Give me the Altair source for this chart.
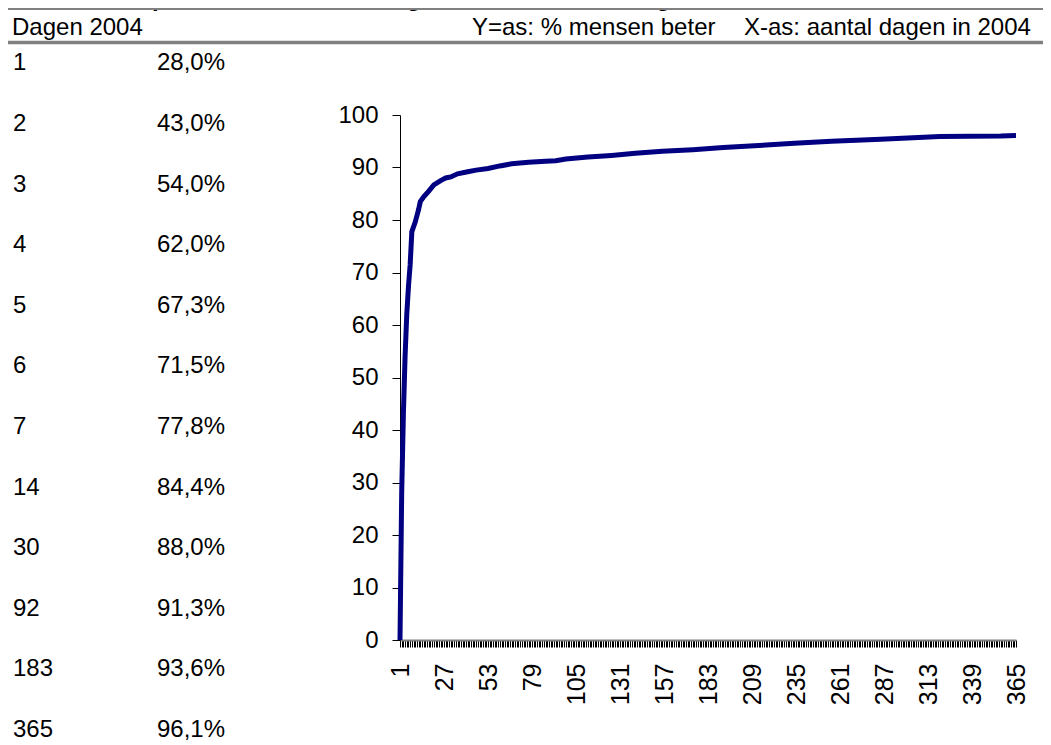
import altair as alt
import pandas as pd

# ---------------- data ----------------
title_text = "personeel dat beter is gemeld na x aantal dagen"
header_left = "Dagen 2004"
header_mid = "Y=as: % mensen beter"
header_right = "X-as: aantal dagen in 2004"

table_days = ["1", "2", "3", "4", "5", "6", "7", "14", "30", "92", "183", "365"]
table_pct = ["28,0%", "43,0%", "54,0%", "62,0%", "67,3%", "71,5%", "77,8%",
             "84,4%", "88,0%", "91,3%", "93,6%", "96,1%"]

# curve (category position -> % mensen beter)
curve_pos = [1, 2, 3, 4, 5, 6, 7, 8, 10, 12, 13, 15, 18, 21, 25, 28, 31, 35, 41, 46,
             53, 60, 67, 77, 87, 93, 99, 112, 126, 140, 156, 174, 184, 192, 213,
             234, 256, 285, 320, 356, 365]
curve_val = [0, 28.0, 43.0, 54.0, 62.0, 67.3, 71.5, 77.8, 79.6, 82.0, 83.5, 84.4,
             85.5, 86.7, 87.5, 88.0, 88.2, 88.8, 89.2, 89.5, 89.8, 90.3, 90.7, 91.0,
             91.2, 91.3, 91.6, 92.0, 92.3, 92.7, 93.1, 93.4, 93.6, 93.8, 94.2, 94.6,
             95.0, 95.4, 95.9, 96.0, 96.1]

x_ticks = list(range(1, 366))
x_labels = list(range(1, 366, 26))
y_ticks = list(range(0, 101, 10))

FONT = "Liberation Sans"
FS = 24

curve_df = pd.DataFrame({"pos": curve_pos, "val": curve_val})
table_df = pd.DataFrame({"row": list(range(len(table_days))),
                         "day": table_days, "pct": table_pct})
one = pd.DataFrame({"k": [0]})

label_list = ",".join(str(v) for v in x_labels)

line = alt.Chart(curve_df).mark_line(color="#000080", strokeWidth=5).encode(
    x=alt.X("pos:Q",
            scale=alt.Scale(domain=[1, 365], nice=False, zero=False),
            axis=alt.Axis(values=x_ticks, title=None, grid=False,
                          tickSize=7, tickColor="#000000", tickWidth=1,
                          domainColor="#808080", domainWidth=2,
                          labelAngle=270, labelFont=FONT, labelFontSize=25,
                          labelColor="#000000", labelPadding=16,
                          labelOverlap=False, labelBound=False, labelFlush=False,
                          labelExpr=f"indexof([{label_list}], datum.value) >= 0 ? datum.label : ''")),
    y=alt.Y("val:Q",
            scale=alt.Scale(domain=[0, 100], nice=False, zero=True),
            axis=alt.Axis(values=y_ticks, title=None, grid=False,
                          tickSize=8, tickColor="#000000", tickWidth=1,
                          domainColor="#000000", domainWidth=1,
                          labelFont=FONT, labelFontSize=FS, labelColor="#000000",
                          labelPadding=14, labelOverlap=False)),
)

row_scale = alt.Scale(domain=[0, len(table_days) - 1], range=[-44.7, 622.0])

days_text = alt.Chart(table_df).mark_text(
    align="left", baseline="alphabetic", font=FONT, fontSize=FS, color="#000000"
).encode(
    x=alt.value(-387),
    y=alt.Y("row:Q", scale=row_scale, axis=None),
    text="day:N",
)

pct_text = alt.Chart(table_df).mark_text(
    align="left", baseline="alphabetic", font=FONT, fontSize=FS, color="#000000"
).encode(
    x=alt.value(-243),
    y=alt.Y("row:Q", scale=row_scale, axis=None),
    text="pct:N",
)

def header(txt, xpos, bold=False, ypos=-80.5):
    return alt.Chart(pd.DataFrame({"t": [txt]})).mark_text(
        align="left", baseline="alphabetic", font=FONT, fontSize=FS,
        fontWeight="bold" if bold else "normal", color="#000000"
    ).encode(x=alt.value(xpos), y=alt.value(ypos), text="t:N")

title_mark = header(title_text, -248, bold=True, ypos=-109.5)
h1 = header(header_left, -388)
h2 = header(header_mid, 72)
h3 = header(header_right, 344)

rule1 = alt.Chart(one).mark_rule(color="#808080", strokeWidth=3.4).encode(
    x=alt.value(-393), x2=alt.value(651), y=alt.value(-106.6))
rule2 = alt.Chart(one).mark_rule(color="#808080", strokeWidth=3.4).encode(
    x=alt.value(-393), x2=alt.value(651), y=alt.value(-72.5))

chart = alt.layer(
    line, days_text, pct_text, title_mark, rule1, rule2, h1, h2, h3
).resolve_scale(y="independent").properties(
    width=616, height=525,
    autosize=alt.AutoSizeParams(type="none"),
    padding={"left": 392, "top": 107, "right": 27, "bottom": 105},
    background="#ffffff",
).configure_view(stroke=None)

chart.save("out.html", embed_options={"renderer": "svg", "actions": False})
